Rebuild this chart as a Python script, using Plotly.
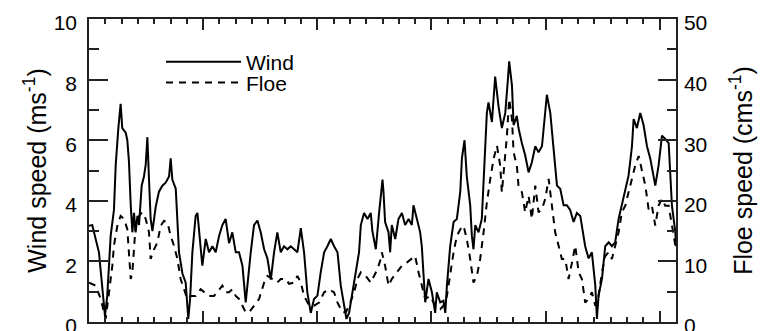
import plotly.graph_objects as go

# Time axis in days
wind_day = [0, 0.20, 0.61, 0.82, 0.98, 1.12, 1.33, 1.53, 1.64, 1.80, 1.94, 2.04, 2.25, 2.35, 2.45, 2.56,
            2.66, 2.76, 2.86, 2.97, 3.07, 3.23, 3.37, 3.48, 3.58, 3.68, 3.78, 3.89, 3.99, 4.09, 4.29,
            4.50, 4.70, 4.91, 5.01, 5.11, 5.32, 5.42, 5.52, 5.73, 5.93, 6.09, 6.20, 6.34, 6.54, 6.65,
            6.75, 6.95, 7.16, 7.36, 7.57, 7.77, 7.98, 8.18, 8.38, 8.59, 8.79, 9.00, 9.20, 9.41, 9.61,
            9.71, 9.92, 10.12, 10.33, 10.53, 10.74, 10.94, 11.15, 11.35, 11.55, 11.76, 11.96, 12.17,
            12.37, 12.58, 12.78, 12.99, 13.19, 13.39, 13.60, 13.80, 14.01, 14.21, 14.42, 14.62, 14.83,
            15.03, 15.24, 15.44, 15.64, 15.79, 15.95, 16.16, 16.36, 16.56, 16.67, 16.87, 17.08, 17.28,
            17.38, 17.59, 17.79, 18.00,
            18.06, 18.16, 18.37, 18.47, 18.57, 18.78, 18.98, 19.19, 19.39, 19.60, 19.80, 19.90, 20.11,
            20.31, 20.41, 20.52, 20.62, 20.82, 21.03, 21.23, 21.33, 21.54, 21.74, 21.85, 21.95, 22.15,
            22.36, 22.56, 22.77, 22.87, 23.03, 23.17, 23.38, 23.48, 23.58, 23.69, 23.89, 24.09, 24.20,
            24.40, 24.50, 24.71, 24.91, 25.12, 25.32, 25.53, 25.69, 25.77, 25.94, 26.04, 26.24, 26.34,
            26.55, 26.75, 26.96, 27.16, 27.37, 27.57, 27.78, 27.98, 28.08, 28.29, 28.49, 28.70, 28.90,
            29.11, 29.31, 29.51, 29.72, 29.92, 30.13, 30.23, 30.43, 30.64, 30.84, 31.05, 31.15, 31.25,
            31.46, 31.66, 31.87, 32.07, 32.27, 32.48, 32.68, 32.89, 33.09, 33.30, 33.40, 33.60, 33.81,
            34.01, 34.22, 34.42, 34.63, 34.73, 34.93, 35.14, 35.34, 35.55, 35.75, 35.96, 36.0]

# Wind speed (m/s)
wind_speed = [3.18, 3.2, 2.3, 1.2, 0.2, 0.87, 2.85, 3.7, 5.2, 6.4, 7.2, 6.4, 6.25, 6.0, 5.3, 3.85,
              2.96, 3.6, 2.96, 3.5, 3.2, 4.5, 4.8, 5.2, 6.1, 4.7, 3.4, 3.0, 3.4, 3.8, 4.3,
              4.5, 4.6, 4.8, 5.4, 4.7, 4.4, 3.4, 2.3, 1.6, 1.3, 0.1, 0.76, 2.3, 3.5, 3.6,
              3.0, 1.86, 2.74, 2.3, 2.5, 2.3, 2.85, 3.2, 3.4, 2.6, 2.96, 2.3, 2.3, 1.86, 0.65,
              1.2, 2.3, 3.2, 3.35, 2.96, 2.4, 2.1, 1.4, 2.3, 2.96, 2.3, 2.5, 2.4,
              2.5, 2.4, 2.3, 3.1, 2.3, 0.98, 0.3, 0.76, 0.87, 1.64, 2.3, 2.5, 2.74,
              2.5, 2.3, 1.2, 0.54, 0.1, 0.3, 0.98, 1.64, 2.3, 3.2, 3.6, 3.4, 3.6,
              3.0, 2.4, 3.6, 4.7,
              4.3, 3.3, 2.96, 2.3, 3.2, 2.74, 3.4, 3.6, 3.2, 3.4, 3.2, 3.85, 3.4,
              2.96, 2.5, 1.64, 0.65, 1.42, 0.98, 0.3, 0.98, 0.65, 0.7, 0.3, 1.2, 2.5,
              3.3, 3.4, 4.3, 5.4, 6.0, 4.8, 3.85, 2.85, 2.4, 3.2, 2.96, 3.4, 4.8,
              6.9, 7.25, 6.6, 8.1, 7.1, 6.4, 6.9, 8.0, 8.6, 7.8, 6.5, 6.8, 6.4,
              5.9, 5.5, 4.94, 5.27, 5.8, 5.6, 5.8, 7.1, 7.5, 6.9, 5.6, 4.5, 4.4,
              3.85, 3.85, 3.7, 3.3, 3.6, 3.5, 3.2, 2.5, 2.1, 2.3, 1.2, 0.1, 0.87,
              1.42, 2.5, 2.63, 2.5, 2.63, 3.4, 3.85, 4.3, 4.83, 5.8, 6.7, 6.4, 6.9,
              6.5, 5.8, 5.4, 4.83, 4.5, 5.16, 6.15, 6.04, 5.9, 3.85, 2.96, 2.5]

floe_day = [0, 0.41, 0.72, 1.02, 1.23, 1.43, 1.53, 1.74, 1.94, 2.15, 2.35, 2.45, 2.56, 2.66, 2.86,
            3.07, 3.27, 3.48, 3.68, 3.78, 3.99, 4.19, 4.40, 4.60, 4.81, 5.01, 5.21, 5.42, 5.62, 5.83,
            6.03, 6.24, 6.54, 6.85, 7.06, 7.36, 7.67, 7.98, 8.18, 8.38, 8.59, 8.79, 9.00, 9.20, 9.41,
            9.61, 9.82, 10.12, 10.43, 10.74, 10.94, 11.25, 11.55, 11.76, 12.07, 12.27, 12.58, 12.78,
            12.99, 13.19, 13.50, 13.80, 14.11, 14.42, 14.72, 15.03, 15.24, 15.54, 15.75, 15.95, 16.26,
            16.46, 16.67, 16.97, 17.28, 17.48, 17.69, 17.89,
            17.96, 18.16, 18.37, 18.57, 18.88, 19.19, 19.49, 19.80, 20.00, 20.21, 20.41, 20.62, 20.93,
            21.23, 21.54, 21.74, 21.95, 22.15, 22.36, 22.56, 22.77, 22.97, 23.17, 23.38, 23.58, 23.79,
            23.99, 24.20, 24.40, 24.61, 24.81, 25.02, 25.22, 25.32, 25.42, 25.63, 25.77, 25.94, 26.04,
            26.24, 26.34, 26.55, 26.75, 26.96, 27.16, 27.26, 27.37, 27.57, 27.78, 27.98, 28.19, 28.39,
            28.59, 28.80, 29.00, 29.21, 29.41, 29.62, 29.82, 30.03, 30.23, 30.43, 30.64, 30.84, 31.05,
            31.25, 31.46, 31.66, 31.87, 32.07, 32.27, 32.48, 32.68, 32.89, 33.09, 33.30, 33.50, 33.71,
            33.91, 34.12, 34.32, 34.52, 34.73, 34.93, 35.14, 35.34, 35.55, 35.75, 35.96]

# Floe speed (cm/s)
floe_speed = [6.5, 6.0, 3.8, 0.5, 4.9, 9.3, 12.6, 15.9, 17.5, 17.0, 15.3, 11.5, 7.1, 8.2, 15.9,
              17.5, 18.1, 17.0, 14.8, 10.4, 12.0, 13.1, 15.9, 16.7, 16.4, 14.2, 12.6, 10.4, 7.1, 5.4,
              3.8, 4.3, 4.3, 5.4, 4.9, 4.3, 4.3, 5.4, 6.0, 4.9, 4.9, 5.4, 4.3, 3.8, 2.7,
              1.6, 1.6, 2.7, 3.8, 6.5, 7.6, 7.1, 6.5, 7.1, 7.1, 6.3, 6.5, 7.6,
              6.5, 4.3, 2.7, 2.7, 3.2, 4.9, 5.4, 4.9, 3.2, 1.6, 1.6, 2.7, 4.9,
              7.1, 8.2, 7.6, 6.5, 7.6, 8.7, 10.4,
              11.5, 9.3, 6.0, 7.1, 8.2, 9.3, 9.8, 10.4, 10.9, 8.2, 6.0, 3.8, 4.3,
              2.7, 2.1, 2.7, 4.3, 8.2, 11.5, 14.2, 15.3, 15.9, 13.7, 10.4, 6.5, 7.6,
              10.4, 14.8, 19.7, 23.6, 26.9, 29.1, 25.8, 21.4, 24.1, 30.7, 36.8, 33.5, 28.0,
              25.8, 22.5, 21.4, 18.1, 20.8, 17.0, 20.3, 22.5, 18.1, 18.6, 20.3, 23.6, 19.2,
              14.8, 12.6, 10.4, 10.4, 7.1, 9.8, 12.6, 8.2, 7.1, 3.2, 3.8, 4.9, 2.7,
              4.3, 8.2, 10.9, 11.5, 10.4, 12.6, 14.8, 18.1, 19.2, 21.4, 23.6, 25.8, 27.4,
              25.2, 22.5, 18.6, 19.2, 15.9, 19.2, 20.3, 19.2, 19.2, 15.9, 12.6]

FONT = "Liberation Sans, Arial, sans-serif"
AX = "#222"

fig = go.Figure()
fig.add_trace(go.Scatter(x=wind_day, y=wind_speed, mode="lines", name="Wind",
                         line=dict(color="black", width=2), yaxis="y", legend="legend"))
fig.add_trace(go.Scatter(x=floe_day, y=floe_speed, mode="lines", name="Floe",
                         line=dict(color="black", width=2, dash="7px,6px"), yaxis="y2",
                         legend="legend2"))

leg_common = dict(x=0.1227, xanchor="left", yanchor="middle", bgcolor="rgba(0,0,0,0)",
                  font=dict(size=21, family=FONT), itemwidth=75, borderwidth=0)

fig.update_layout(
    width=772, height=331,
    margin=dict(l=89, r=96, t=19, b=9, autoexpand=False),
    paper_bgcolor="white", plot_bgcolor="white",
    font=dict(family=FONT, color="black"),
    showlegend=True,
    legend=dict(y=0.858, **leg_common),
    legend2=dict(y=0.789, **leg_common),
    xaxis=dict(range=[0, 36], showgrid=False, zeroline=False, showticklabels=False,
               automargin=False,
               showline=True, linecolor=AX, linewidth=1.5, mirror="ticks",
               ticks="inside", tick0=0, dtick=7, ticklen=11, tickwidth=1.5, tickcolor=AX,
               minor=dict(ticks="inside", dtick=1, ticklen=5, tickwidth=1.5, tickcolor=AX)),
    yaxis=dict(range=[0, 10], showgrid=False, zeroline=False, automargin=False,
               showline=True, linecolor=AX, linewidth=1.5,
               ticks="inside", tick0=0, dtick=2, ticklen=19, tickwidth=1.5, tickcolor=AX,
               minor=dict(ticks="inside", dtick=1, ticklen=10, tickwidth=1.5, tickcolor=AX),
               tickfont=dict(size=21, family=FONT), ticklabeloverflow="allow",
               ticklabelshift=4, ticklabelstandoff=6,
               title=dict(text="Wind speed (ms<sup>-1</sup>)", font=dict(size=25, family=FONT),
                          standoff=0)),
    yaxis2=dict(range=[0, 50], overlaying="y", side="right", showgrid=False, zeroline=False,
                automargin=False,
                showline=True, linecolor=AX, linewidth=1.5,
                ticks="inside", tick0=0, dtick=10, ticklen=18, tickwidth=1.5, tickcolor=AX,
                minor=dict(ticks="inside", dtick=5, ticklen=9, tickwidth=1.5, tickcolor=AX),
                tickfont=dict(size=21, family=FONT), ticklabeloverflow="allow",
                ticklabelshift=4, ticklabelstandoff=2,
                title=dict(text="Floe speed (cms<sup>-1</sup>)", font=dict(size=25, family=FONT),
                           standoff=28)),
)

fig.write_html("out.html", config={"displayModeBar": False},
               post_script="document.body.style.margin='0px';document.body.style.overflow='hidden';")
